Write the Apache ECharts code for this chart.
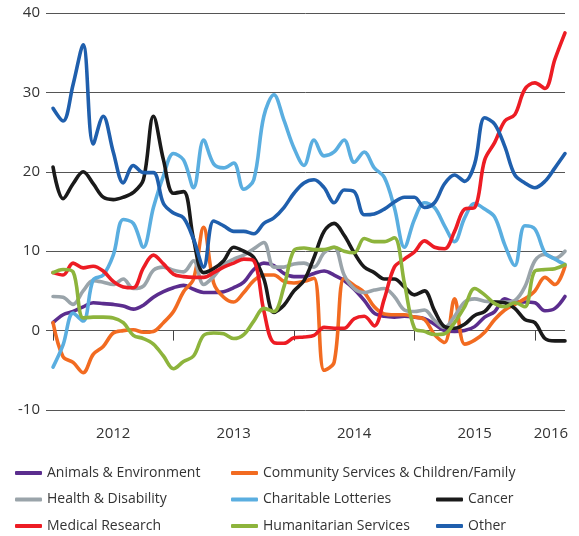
<!DOCTYPE html>
<html>
<head>
<meta charset="utf-8">
<script src="https://cdn.jsdelivr.net/npm/echarts@6/dist/echarts.min.js"></script>
<style>
  html, body { margin: 0; padding: 0; background: #fff; }
  #chart { width: 579px; height: 536px; }
</style>
</head>
<body>
<div id="chart"></div>
<script>
// monthly points, Jan 2012 .. Apr 2016 (index = months since Jan 2012)
var yearTicks = [0, 12, 24, 36, 48];
var yearLabelPos = [6, 18, 30, 42, 49.6];

var animals = [1.0,2.0,2.4,3.0,3.5,3.4,3.3,3.1,2.7,3.2,4.2,4.9,5.4,5.7,5.2,4.8,4.8,4.9,5.4,6.1,7.7,8.5,8.2,7.2,6.8,6.8,7.2,7.5,7.0,6.3,5.2,3.8,2.2,1.8,1.7,1.8,1.7,1.5,0.8,0.0,-0.1,0.0,0.5,1.7,2.4,4.0,3.6,3.6,3.5,2.5,2.8,4.3];
var community = [1.0,-3.3,-4.0,-5.3,-3.0,-2.0,-0.3,0.0,0.1,-0.2,-0.1,1.0,2.4,4.9,6.5,13.0,6.0,4.2,3.6,4.8,6.3,7.0,7.0,6.2,6.0,6.2,6.6,-5.0,-4.0,6.6,5.7,4.8,3.0,2.1,2.0,2.0,1.7,1.4,-0.5,-1.5,4.0,-1.7,-1.2,-0.2,1.4,2.6,3.3,4.0,5.0,6.7,5.8,8.1];
var health = [4.3,4.2,3.3,5.0,6.3,6.1,5.8,6.5,5.3,5.6,7.6,8.0,7.6,7.4,8.8,5.8,6.8,8.3,9.0,9.5,10.3,11.1,8.0,8.0,8.4,8.5,8.0,9.8,10.5,7.0,5.3,4.8,5.1,5.3,4.3,2.6,2.4,2.6,1.3,0.4,1.8,3.6,4.0,3.7,3.6,3.6,3.8,5.5,8.8,9.6,9.1,10.0];
var lotteries = [-4.6,-1.8,2.2,1.2,6.4,7.0,9.5,14.0,13.5,10.5,15.5,19.5,22.3,21.5,18.0,24.0,21.0,20.5,21.1,17.8,19.0,27.0,29.7,26.5,23.0,20.8,24.0,22.0,22.5,24.0,21.2,22.5,20.5,19.3,15.5,10.5,14.0,16.1,15.5,13.2,11.2,14.2,16.0,15.3,14.3,10.8,8.2,13.2,12.8,9.8,9.0,8.3];
var cancer = [20.6,16.6,18.5,20.0,18.5,16.8,16.5,16.8,17.4,19.0,27.0,21.5,17.3,17.5,11.5,7.3,7.8,8.8,10.5,10.0,9.2,6.5,2.3,3.2,5.0,6.3,9.2,12.5,13.5,12.0,9.8,8.0,7.3,6.5,6.5,5.5,4.5,5.0,2.5,0.5,0.3,0.8,1.9,2.4,3.6,3.5,2.8,1.4,1.0,-1.0,-1.3,-1.3];
var medical = [7.3,7.0,8.5,7.9,8.1,7.5,6.2,5.5,5.4,7.9,9.5,8.4,7.1,6.8,6.7,6.7,7.3,8.0,8.5,9.0,8.8,2.5,-1.5,-1.6,-0.9,-0.8,-0.6,0.4,0.3,0.3,1.5,1.8,0.6,4.0,8.0,9.0,9.9,11.3,10.5,10.3,12.5,15.3,15.5,21.5,23.7,26.4,27.2,30.4,31.2,30.5,34.2,37.5];
var humanitarian = [7.3,7.7,7.4,1.6,1.7,1.7,1.6,1.0,-0.6,-1.0,-1.7,-3.2,-4.8,-3.9,-3.2,-0.6,-0.3,-0.4,-1.0,-0.5,1.2,2.8,2.4,5.5,10.1,10.4,10.2,10.2,10.5,10.0,9.8,11.6,11.2,11.2,11.7,6.0,0.3,-0.1,-0.5,-0.4,1.0,3.0,5.3,4.5,3.4,3.0,3.5,3.0,7.5,7.7,7.8,8.3];
var other = [28.0,26.4,31.0,36.0,23.5,27.0,22.5,18.6,20.8,19.9,19.9,16.0,14.8,14.2,11.5,8.0,13.8,13.2,12.5,12.5,12.2,13.5,14.2,15.5,17.3,18.6,19.0,18.0,16.1,17.7,17.5,14.6,14.7,15.3,16.2,16.8,16.8,15.5,16.1,18.5,19.6,18.8,21.0,26.8,26.0,23.2,19.6,18.6,18.0,18.8,20.5,22.3];

var names = ['Animals & Environment', 'Community Services & Children/Family', 'Health & Disability',
  'Charitable Lotteries', 'Cancer', 'Medical Research', 'Humanitarian Services', 'Other'];
var colors = ['#5b2d8e', '#f26b21', '#9aa4aa', '#5aaee0', '#1a1a1a', '#ed1c24', '#8db43c', '#1f5fad'];
var values = [animals, community, health, lotteries, cancer, medical, humanitarian, other];

var myChart = echarts.init(document.getElementById('chart'));

var series = values.map(function (arr, k) {
  return {
    name: names[k],
    type: 'line',
    smooth: 0.35,
    symbol: 'none',
    color: colors[k],
    lineStyle: { width: 3.6, color: colors[k], cap: 'round', join: 'round' },
    data: arr.map(function (v, i) { return [i, v]; })
  };
});

var legendBase = {
  orient: 'vertical',
  padding: 0,
  icon: 'roundRect',
  itemWidth: 27,
  itemHeight: 4,
  itemGap: 10.5,
  textStyle: { fontFamily: 'Open Sans', fontSize: 14, color: '#333', lineHeight: 16 }
};

var option = {
  animation: false,
  grid: { left: 46, right: 14, top: 13, bottom: 126 },
  xAxis: {
    type: 'value',
    min: -0.7,
    max: 51,
    splitLine: { show: false },
    axisLine: { show: false },
    axisTick: { show: true, customValues: yearTicks, length: 10, lineStyle: { color: '#444', width: 1 } },
    axisLabel: {
      customValues: yearLabelPos,
      margin: 16,
      fontFamily: 'Open Sans',
      fontSize: 15,
      color: '#333',
      formatter: function (v) { return String(2012 + Math.floor(v / 12)); }
    }
  },
  yAxis: {
    type: 'value',
    min: -10,
    max: 40,
    interval: 10,
    axisLine: { show: false },
    axisTick: { show: false },
    axisLabel: { margin: 6, fontFamily: 'Open Sans', fontSize: 15, color: '#333' },
    splitLine: { lineStyle: { color: '#555', width: 1 } }
  },
  legend: [
    Object.assign({}, legendBase, { left: 15, top: 465, data: [names[0], names[2], names[5]] }),
    Object.assign({}, legendBase, { left: 231, top: 465, data: [names[1], names[3], names[6]] }),
    Object.assign({}, legendBase, { left: 436, top: 491.5, data: [names[4], names[7]] })
  ],
  series: series
};

myChart.setOption(option);
</script>
</body>
</html>
